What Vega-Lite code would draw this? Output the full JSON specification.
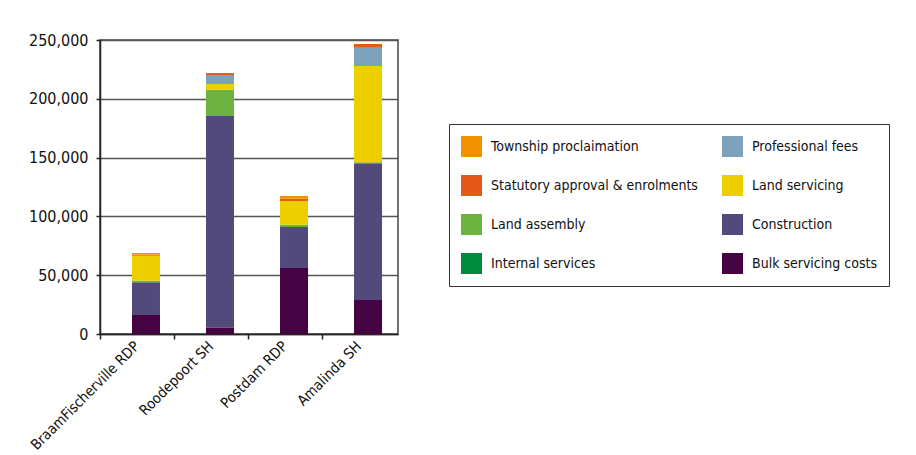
{
  "$schema": "https://vega.github.io/schema/vega-lite/v6.json",
  "width": 298,
  "height": 294,
  "autosize": {"type": "none"},
  "padding": {"left": 100, "top": 40, "right": 518, "bottom": 121},
  "background": "white",
  "config": {
    "font": "DejaVu Sans Condensed, Roboto, sans-serif",
    "view": {"stroke": "#444", "strokeWidth": 1.5},
    "axis": {"labelFont": "DejaVu Sans Condensed, Roboto, sans-serif", "labelColor": "#111"},
    "legend": {"labelFont": "DejaVu Sans Condensed, Roboto, sans-serif", "labelColor": "#111"}
  },
  "data": {
    "values": [
      {"site": "BraamFischerville RDP", "cost": "Bulk servicing costs", "rank": 1, "value": 16150},
      {"site": "BraamFischerville RDP", "cost": "Construction", "rank": 2, "value": 27800},
      {"site": "BraamFischerville RDP", "cost": "Internal services", "rank": 3, "value": 0},
      {"site": "BraamFischerville RDP", "cost": "Land assembly", "rank": 4, "value": 1400},
      {"site": "BraamFischerville RDP", "cost": "Land servicing", "rank": 5, "value": 21000},
      {"site": "BraamFischerville RDP", "cost": "Professional fees", "rank": 6, "value": 800},
      {"site": "BraamFischerville RDP", "cost": "Statutory approval & enrolments", "rank": 7, "value": 400},
      {"site": "BraamFischerville RDP", "cost": "Township proclaimation", "rank": 8, "value": 1300},
      {"site": "Roodepoort SH", "cost": "Bulk servicing costs", "rank": 1, "value": 5400},
      {"site": "Roodepoort SH", "cost": "Construction", "rank": 2, "value": 180000},
      {"site": "Roodepoort SH", "cost": "Internal services", "rank": 3, "value": 0},
      {"site": "Roodepoort SH", "cost": "Land assembly", "rank": 4, "value": 22300},
      {"site": "Roodepoort SH", "cost": "Land servicing", "rank": 5, "value": 4850},
      {"site": "Roodepoort SH", "cost": "Professional fees", "rank": 6, "value": 7650},
      {"site": "Roodepoort SH", "cost": "Statutory approval & enrolments", "rank": 7, "value": 1700},
      {"site": "Roodepoort SH", "cost": "Township proclaimation", "rank": 8, "value": 0},
      {"site": "Postdam RDP", "cost": "Bulk servicing costs", "rank": 1, "value": 56100},
      {"site": "Postdam RDP", "cost": "Construction", "rank": 2, "value": 34900},
      {"site": "Postdam RDP", "cost": "Internal services", "rank": 3, "value": 0},
      {"site": "Postdam RDP", "cost": "Land assembly", "rank": 4, "value": 1950},
      {"site": "Postdam RDP", "cost": "Land servicing", "rank": 5, "value": 20150},
      {"site": "Postdam RDP", "cost": "Professional fees", "rank": 6, "value": 0},
      {"site": "Postdam RDP", "cost": "Statutory approval & enrolments", "rank": 7, "value": 1950},
      {"site": "Postdam RDP", "cost": "Township proclaimation", "rank": 8, "value": 2300},
      {"site": "Amalinda SH", "cost": "Bulk servicing costs", "rank": 1, "value": 28900},
      {"site": "Amalinda SH", "cost": "Construction", "rank": 2, "value": 116250},
      {"site": "Amalinda SH", "cost": "Internal services", "rank": 3, "value": 0},
      {"site": "Amalinda SH", "cost": "Land assembly", "rank": 4, "value": 850},
      {"site": "Amalinda SH", "cost": "Land servicing", "rank": 5, "value": 81900},
      {"site": "Amalinda SH", "cost": "Professional fees", "rank": 6, "value": 16150},
      {"site": "Amalinda SH", "cost": "Statutory approval & enrolments", "rank": 7, "value": 2550},
      {"site": "Amalinda SH", "cost": "Township proclaimation", "rank": 8, "value": 0}
    ]
  },
  "mark": {"type": "bar"},
  "encoding": {
    "x": {
      "field": "site",
      "type": "nominal",
      "sort": null,
      "scale": {"paddingInner": 0.6216, "paddingOuter": 0.324, "align": 0.667},
      "axis": {
        "title": null,
        "labelAngle": -45,
        "labelFontSize": 14.5,
        "labelLimit": 300,
        "labelPadding": 0,
        "bandPosition": 0,
        "tickOffset": -32,
        "labelOffset": 18,
        "tickSize": 5,
        "tickColor": "#222",
        "tickWidth": 1.5,
        "domainColor": "#222",
        "domainWidth": 1.5
      }
    },
    "y": {
      "field": "value",
      "type": "quantitative",
      "stack": "zero",
      "scale": {"domain": [0, 250000], "nice": false},
      "axis": {
        "title": null,
        "values": [0, 50000, 100000, 150000, 200000, 250000],
        "format": ",d",
        "labelFontSize": 16,
        "labelPadding": 8,
        "tickSize": 4,
        "tickColor": "#222",
        "tickWidth": 1.5,
        "domainColor": "#222",
        "domainWidth": 1.5,
        "gridColor": "#555",
        "gridWidth": 1.5
      }
    },
    "color": {
      "field": "cost",
      "type": "nominal",
      "scale": {
        "domain": ["Township proclaimation", "Statutory approval & enrolments", "Land assembly", "Internal services", "Professional fees", "Land servicing", "Construction", "Bulk servicing costs"],
        "range": ["#f39200", "#e6581a", "#6db33f", "#008a3e", "#7fa2bc", "#edcf00", "#534a7c", "#450343"]
      },
      "legend": {
        "title": null,
        "orient": "none",
        "legendX": 349,
        "legendY": 84,
        "columns": 2,
        "symbolType": "square",
        "symbolSize": 441,
        "symbolStrokeWidth": 0,
        "labelFontSize": 14,
        "labelOffset": 9,
        "rowPadding": 18,
        "columnPadding": 24,
        "padding": 12,
        "strokeColor": "#333",
        "labelLimit": 300
      }
    },
    "order": {"field": "rank", "type": "quantitative"}
  }
}
